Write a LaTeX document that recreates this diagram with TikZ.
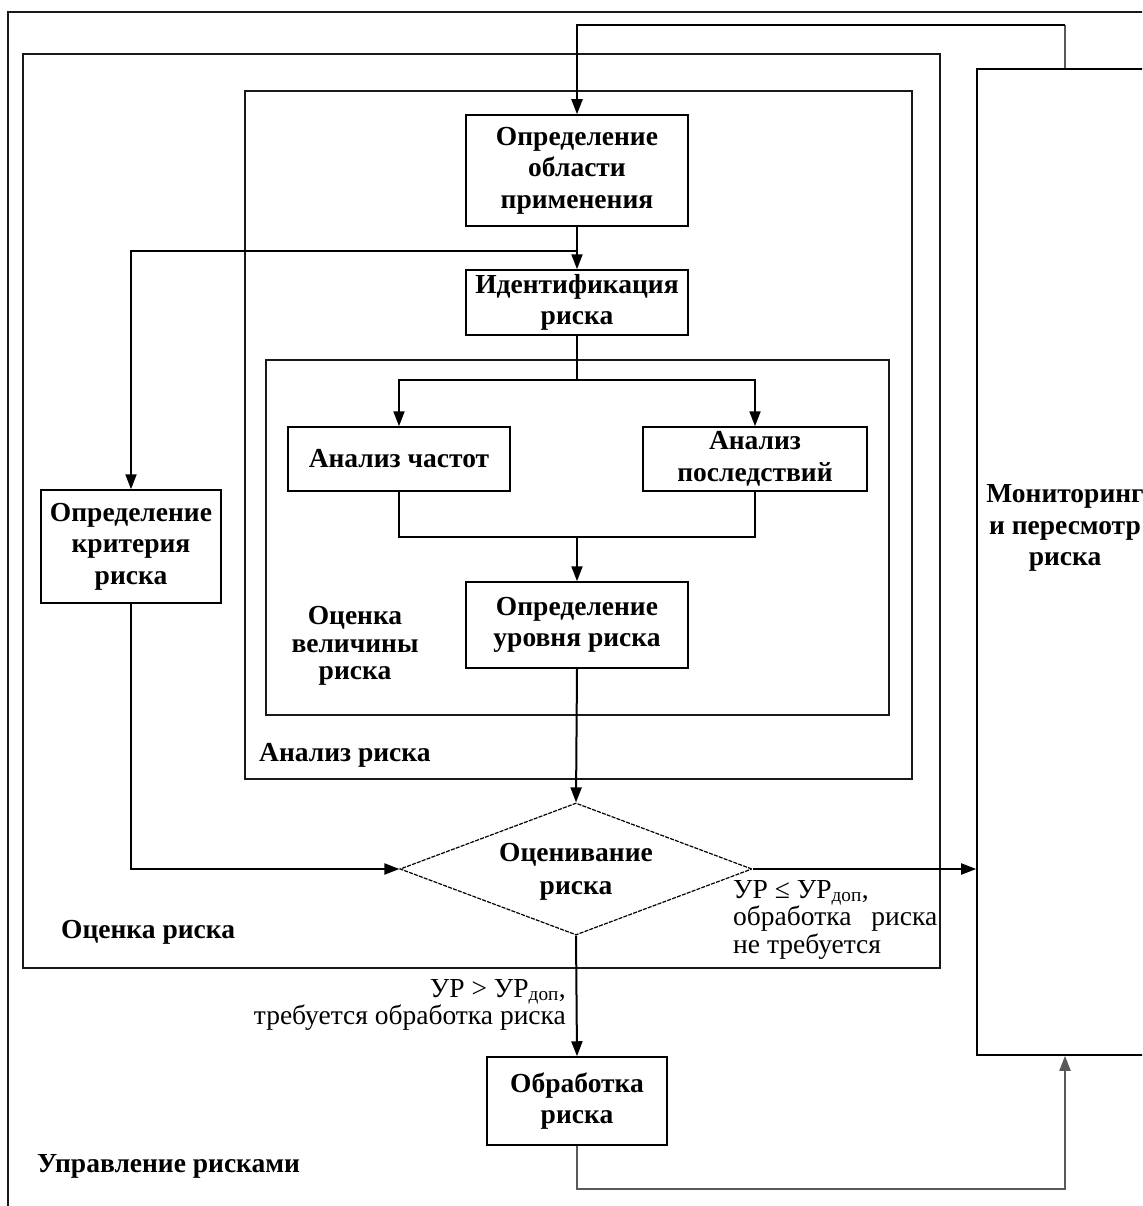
\documentclass[tikz,border=0pt]{standalone}
\usepackage{fontspec}
\setmainfont{Liberation Serif}
\usetikzlibrary{arrows.meta,shapes.geometric}
\tikzset{
  frame/.style={draw=black!90, line width=1.6pt},
  boxnode/.style={draw=black, line width=1.5pt, inner sep=0pt, align=center,
    font=\bfseries\fontsize{27.5}{31.5}\selectfont},
  lbl/.style={inner sep=0pt, font=\bfseries\fontsize{27.5}{31.5}\selectfont},
  arr/.style={line width=2pt, -{Triangle[length=15pt,width=11pt]}},
  conn/.style={line width=2pt},
  grayconn/.style={line width=2pt, draw=black!65},
  note/.style={inner sep=0pt, font=\fontsize{27.5}{27.5}\selectfont}
}
\begin{document}
\begin{tikzpicture}[x=1pt,y=-1pt]
\clip (0,0) rectangle (1142,1206);
\fill[white] (0,0) rectangle (1142,1206);
% frames
\draw[frame] (8,12) rectangle (1180,1240);
\draw[frame] (23,54) rectangle (940,968);
\draw[frame] (245,91) rectangle (912,779);
\draw[frame] (266,360) rectangle (889,715);
% nodes
\node[boxnode, minimum width=222pt, minimum height=111pt] (ood) at (577,170.5) {Определение\\области\\применения};
\node[boxnode, minimum width=222pt, minimum height=65pt] (idr) at (577,302.5) {Идентификация\\риска};
\node[boxnode, minimum width=180pt, minimum height=113pt] (okr) at (131,546.5) {Определение\\критерия\\риска};
\node[boxnode, minimum width=222pt, minimum height=64pt] (ach) at (399,459) {Анализ частот};
\node[boxnode, minimum width=224pt, minimum height=64pt] (apo) at (755,459) {Анализ\\последствий};
\node[boxnode, minimum width=222pt, minimum height=86pt] (our) at (577,625) {Определение\\уровня риска};
\node[diamond, draw=black, line width=1.2pt, dash pattern=on 4pt off 1.2pt, aspect=2.67,
  minimum width=352pt, minimum height=132pt, inner sep=0pt, align=center,
  font=\bfseries\fontsize{27.5}{33}\selectfont] (dia) at (576,869) {};
\node[lbl, align=center, font=\bfseries\fontsize{27.5}{33}\selectfont] (diatxt) at (576,872) {Оценивание\\риска};
\node[boxnode, minimum width=180pt, minimum height=88pt] (obr) at (577,1101) {Обработка\\риска};
\node[draw=black, line width=1.6pt, minimum width=176pt, minimum height=986pt, inner sep=0pt] (mon) at (1065,562) {};
\node[lbl, align=center] (montxt) at (1065,528) {Мониторинг\\и пересмотр\\риска};
% labels
\node[lbl, align=center, font=\bfseries\fontsize{27.5}{27.5}\selectfont] (ovr) at (355,646) {Оценка\\величины\\риска};
\node[lbl, anchor=west] (arl) at (259,755) {Анализ риска};
\node[lbl, anchor=west] (orl) at (61,932) {Оценка риска};
\node[lbl, anchor=west] (url) at (37,1166) {Управление рисками};
\node[note, anchor=north west, align=left] (n1) at (733,880)
  {УР ≤ УР\textsubscript{доп},\\ \makebox[204pt][s]{обработка\hfill риска}\\не требуется};
\node[note, anchor=north east, align=right] (n2) at (566,979)
  {УР > УР\textsubscript{доп},\\требуется обработка риска};
% connectors
\coordinate (br1) at (577,251);
\coordinate (sp) at (577,380);
\coordinate (jn) at (577,537);
\draw[grayconn] (mon.north) -- ++(0,-43) coordinate (fb1);
\draw[arr] (fb1) -| (ood.north);
\draw[arr] (ood.south) -- (idr.north);
\draw[arr] (br1) -| (okr.north);
\draw[conn] (idr.south) -- (sp);
\draw[arr] (sp) -| (ach.north);
\draw[arr] (sp) -| (apo.north);
\draw[conn] (ach.south) |- (jn) -| (apo.south);
\draw[arr] (jn) -- (our.north);
\draw[arr] (our.south) -- (dia.north);
\draw[arr] (okr.south) |- (dia.west);
\draw[arr] (dia.east) -- (dia.east -| mon.west);
\draw[arr] (dia.south) -- (obr.north);
\draw[grayconn, -{Triangle[length=15pt,width=11pt]}] (obr.south) -- ++(0,43) -| (mon.south);
\end{tikzpicture}
\end{document}
